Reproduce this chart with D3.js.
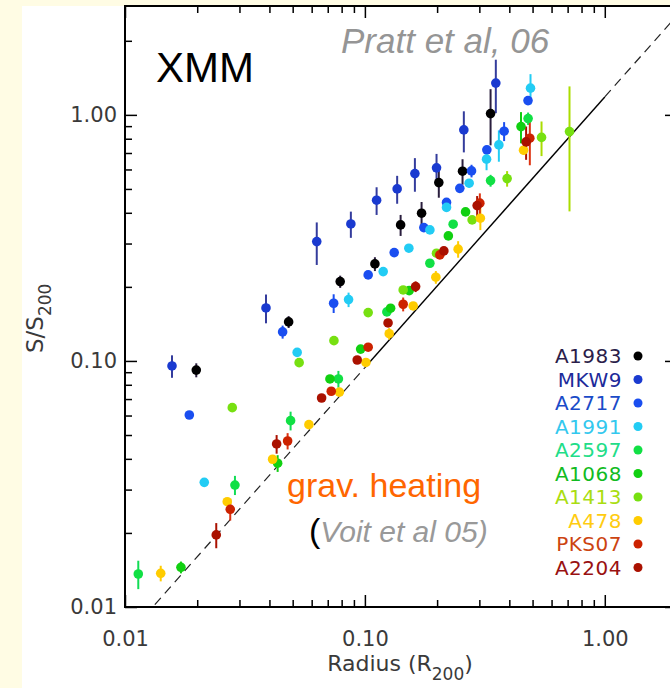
<!DOCTYPE html>
<html><head><meta charset="utf-8">
<script src="https://cdn.jsdelivr.net/npm/d3@7"></script>
<style>
html,body{margin:0;padding:0;background:#fffce4;}
svg{display:block;}
</style></head><body>
<svg id="c" width="670" height="688"></svg>
<script>
// ---------- data ----------
const clusters   = ["A1983","MKW9","A2717","A1991","A2597","A1068","A1413","A478","PKS07","A2204"];
const labelColors= ["#2b1d4a","#1c2a9a","#1a4bc8","#33c8ee","#22dd88","#11bb22","#aadd11","#ffcc11","#cc4411","#991111"];
const dotColors  = ["#000000","#1a3ad0","#1a4ef0","#22ccf4","#11e044","#11d011","#77e011","#ffcc00","#cc2200","#aa1100"];
const barColors  = ["#2a1e3e","#343c9c","#1a4ef0","#22ccf4","#11dd55","#11cc11","#aadd00","#ffcc00","#dd3311","#aa1100"];

const A1983_r = [0.01982,0.0481,0.0789,0.1101,0.1409,0.1723,0.2033,0.2553,0.3341];
const A1983_s = [0.0918,0.1441,0.2101,0.2479,0.3571,0.3985,0.5306,0.5903,1.012];
const A1983_e = [0.006,0.008,0.012,0.016,0.035,0.044,0.07,0.07,0.26];

const MKW9_r = [0.0157,0.0387,0.0630,0.0874,0.1119,0.1363,0.1616,0.1989,0.2585,0.3514];
const MKW9_s = [0.0954,0.1642,0.3055,0.3604,0.450,0.5003,0.5771,0.609,0.869,1.346];
const MKW9_e = [0.010,0.022,0.06,0.044,0.058,0.065,0.09,0.085,0.165,0.33];

const A2717_r = [0.01854,0.0454,0.0741,0.1032,0.1325,0.1761,0.2189,0.2487,0.2783,0.3224,0.3805,0.4786];
const A2717_s = [0.0603,0.1312,0.1716,0.2237,0.2756,0.3482,0.4409,0.5027,0.5920,0.7210,0.8585,1.143];
const A2717_e = [0,0.008,0.015,0,0,0,0,0,0.035,0,0.076,0];

const A1991_r = [0.0214,0.0522,0.0855,0.1192,0.1525,0.1866,0.2189,0.2720,0.3215,0.3618,0.4902];
const A1991_s = [0.0321,0.1083,0.1775,0.2307,0.2872,0.3408,0.4207,0.5276,0.6607,0.7551,1.284];
const A1991_e = [0,0,0.012,0,0,0,0,0.02,0.065,0.11,0.18];

const A2597_r = [0.01136,0.02873,0.04901,0.07755,0.1235,0.1866,0.2333,0.3341,0.4790];
const A2597_s = [0.01362,0.03131,0.0572,0.0845,0.1582,0.2495,0.3595,0.5406,0.966];
const A2597_e = [0.0018,0.0028,0.005,0.0066,0,0,0,0.03,0.056];

const A1068_r = [0.01711,0.04328,0.07149,0.0960,0.1280,0.1530,0.2228,0.2628,0.4475];
const A1068_s = [0.01450,0.0384,0.0845,0.1117,0.1638,0.1931,0.3222,0.4034,0.8963];
const A1068_e = [0.0008,0.003,0,0,0,0,0,0,0.13];

const A1413_r = [0.0280,0.0532,0.0743,0.1032,0.1444,0.1989,0.2799,0.3916,0.5449,0.7127];
const A1413_s = [0.0646,0.0984,0.1209,0.1572,0.1943,0.2741,0.3742,0.5508,0.8100,0.8553];
const A1413_e = [0,0,0,0,0,0,0,0.04,0.13,0.45];

const A478_r = [0.01409,0.02668,0.04124,0.05843,0.0783,0.1010,0.1263,0.1590,0.1976,0.2447,0.3029,0.4585];
const A478_s = [0.01371,0.02679,0.03986,0.0551,0.0747,0.0986,0.1290,0.1673,0.2189,0.2847,0.3802,0.7187];
const A478_e = [0.001,0,0,0,0,0,0.007,0,0.013,0.022,0.04,0.03];

const PKS07_r = [0.02746,0.04763,0.0724,0.1032,0.1444,0.2053,0.3014,0.4870];
const PKS07_s = [0.02495,0.04728,0.0753,0.1137,0.1700,0.2698,0.4377,0.8040];
const PKS07_e = [0.0025,0.0036,0,0,0.011,0,0.042,0.18];

const A2204_r = [0.02401,0.04286,0.0660,0.0929,0.1249,0.1627,0.2134,0.2937,0.4699];
const A2204_s = [0.01963,0.04598,0.0707,0.1009,0.1427,0.2005,0.2800,0.4279,0.7767];
const A2204_e = [0.0023,0.004,0,0,0,0.01,0,0.04,0.12];

// gravitational heating baseline (Voit et al 05)
const baseSolidR  = [0.1, 1.0];
const baseSolidS  = [0.0940, 1.183];
const baseDashLoR = [0.01, 0.1];
const baseDashLoS = [0.00746, 0.0940];
const baseDashHiR = [1.0, 2.0];
const baseDashHiS = [1.183, 2.535];

// axes
const xDomain = [0.01, 2.0];
const yDomain = [0.01, 2.77];
const majorTicks = [0.01, 0.1, 1];
const minorTicks = [0.02,0.03,0.04,0.05,0.06,0.07,0.08,0.09,0.2,0.3,0.4,0.5,0.6,0.7,0.8,0.9,2];

const seriesR = [A1983_r,MKW9_r,A2717_r,A1991_r,A2597_r,A1068_r,A1413_r,A478_r,PKS07_r,A2204_r];
const seriesS = [A1983_s,MKW9_s,A2717_s,A1991_s,A2597_s,A1068_s,A1413_s,A478_s,PKS07_s,A2204_s];
const seriesE = [A1983_e,MKW9_e,A2717_e,A1991_e,A2597_e,A1068_e,A1413_e,A478_e,PKS07_e,A2204_e];

// ---------- drawing ----------
const W = 670, H = 688;
const L = 125, R = 677, T = 6, B = 607;
const axisFont = "'DejaVu Sans', sans-serif";
const svg = d3.select("#c");
svg.append("rect").attr("width",W).attr("height",H).attr("fill","#fffce4");
svg.append("rect").attr("x",22).attr("y",6).attr("width",W-22).attr("height",H-6).attr("fill","#ffffff");

const x = d3.scaleLog().domain(xDomain).range([L, R]);
const y = d3.scaleLog().domain(yDomain).range([B, T]);

svg.append("defs").append("clipPath").attr("id","clip")
  .append("rect").attr("x",L).attr("y",T).attr("width",R-L).attr("height",B-T);

const plot = svg.append("g").attr("clip-path","url(#clip)");

// baseline
const line = d3.line().x(d=>x(d[0])).y(d=>y(d[1]));
plot.append("path").datum(d3.zip(baseSolidR, baseSolidS)).attr("d", line)
  .attr("fill","none").attr("stroke","#000").attr("stroke-width",1.4);
[[baseDashLoR,baseDashLoS],[baseDashHiR,baseDashHiS]].forEach(([rr,ss])=>{
  plot.append("path").datum(d3.zip(rr, ss)).attr("d", line)
    .attr("fill","none").attr("stroke","#222").attr("stroke-width",1.2)
    .attr("stroke-dasharray","9,6");
});

// error bars then points
clusters.forEach((name,i)=>{
  const g = plot.append("g");
  const pts = seriesR[i].map((r,k)=>({r, s:seriesS[i][k], e:seriesE[i][k]}));
  g.selectAll("line").data(pts.filter(p=>p.e>0)).join("line")
    .attr("x1",p=>x(p.r)).attr("x2",p=>x(p.r))
    .attr("y1",p=>y(p.s-p.e)).attr("y2",p=>y(p.s+p.e))
    .attr("stroke",barColors[i]).attr("stroke-width",2);
});
clusters.forEach((name,i)=>{
  const pts = seriesR[i].map((r,k)=>({r, s:seriesS[i][k]}));
  plot.append("g").selectAll("circle").data(pts).join("circle")
    .attr("cx",p=>x(p.r)).attr("cy",p=>y(p.s)).attr("r",4.8)
    .attr("fill",dotColors[i]);
});

// axes
function styleAxis(g){
  g.select(".domain").remove();
  g.selectAll(".tick line").attr("stroke","#000").attr("stroke-width",1.5);
  g.selectAll("text").attr("fill","#3a3a3a").style("font-family",axisFont)
    .style("font-size","21px");
}
const fmt = d3.format(".2f");
svg.append("g").attr("transform",`translate(0,${B})`)
  .call(d3.axisBottom(x).tickValues(majorTicks).tickSize(-12).tickPadding(24).tickFormat(fmt)).call(styleAxis);
svg.append("g").attr("transform",`translate(0,${B})`)
  .call(d3.axisBottom(x).tickValues(minorTicks).tickSize(-7).tickFormat("")).call(styleAxis);
svg.append("g").attr("transform",`translate(0,${T})`)
  .call(d3.axisTop(x).tickValues(majorTicks).tickSize(-12).tickFormat("")).call(styleAxis);
svg.append("g").attr("transform",`translate(0,${T})`)
  .call(d3.axisTop(x).tickValues(minorTicks).tickSize(-7).tickFormat("")).call(styleAxis);
svg.append("g").attr("transform",`translate(${L},0)`)
  .call(d3.axisLeft(y).tickValues(majorTicks).tickSize(-12).tickPadding(8).tickFormat(fmt)).call(styleAxis);
svg.append("g").attr("transform",`translate(${L},0)`)
  .call(d3.axisLeft(y).tickValues(minorTicks).tickSize(-7).tickFormat("")).call(styleAxis);
svg.append("g").attr("transform",`translate(${R},0)`)
  .call(d3.axisRight(y).tickValues(majorTicks).tickSize(-12).tickFormat("")).call(styleAxis);
svg.append("g").attr("transform",`translate(${R},0)`)
  .call(d3.axisRight(y).tickValues(minorTicks).tickSize(-7).tickFormat("")).call(styleAxis);

svg.append("rect").attr("x",L).attr("y",T).attr("width",R-L).attr("height",B-T)
  .attr("fill","none").attr("stroke","#000").attr("stroke-width",2);

// axis titles
const xt = svg.append("text").attr("x",400).attr("y",671).attr("text-anchor","middle")
  .attr("fill","#3a3a3a").style("font-family",axisFont).style("font-size","22px");
xt.append("tspan").text("Radius (R");
xt.append("tspan").attr("dy",9).style("font-size","17px").text("200");
xt.append("tspan").attr("dy",-9).text(")");

const yt = svg.append("text").attr("transform","translate(43,353) rotate(-90)")
  .attr("fill","#3a3a3a").style("font-family",axisFont).style("font-size","23px");
yt.append("tspan").text("S/S");
yt.append("tspan").attr("dy",8).style("font-size","17px").text("200");

// annotations
const ann = "'Liberation Sans', Arial, sans-serif";
svg.append("text").attr("x",156).attr("y",82).text("XMM")
  .attr("fill","#000").style("font-family",ann).style("font-size","42px");
svg.append("text").attr("x",341).attr("y",53).text("Pratt et al, 06")
  .attr("fill","#959595").style("font-family",ann).style("font-size","35px").style("font-style","italic");
svg.append("text").attr("x",287).attr("y",497).text("grav. heating")
  .attr("fill","#ff6600").style("font-family",ann).style("font-size","34px");
const vt = svg.append("text").attr("x",309).attr("y",542)
  .style("font-family",ann).style("font-size","30px");
vt.append("tspan").attr("fill","#000").style("font-size","34px").text("(");
vt.append("tspan").attr("fill","#999").style("font-style","italic").text("Voit et al 05)");

// legend
const legY0 = 356, legDy = 23.5;
const leg = svg.append("g");
clusters.forEach((name,i)=>{
  leg.append("text").attr("x",622).attr("y",legY0+i*legDy).attr("dy","0.36em")
    .attr("text-anchor","end").attr("fill",labelColors[i])
    .style("font-family",axisFont).style("font-size","20px")
    .style("letter-spacing","0.5px").text(name);
  leg.append("circle").attr("cx",638).attr("cy",legY0+i*legDy).attr("r",4.5).attr("fill",dotColors[i]);
});
</script>
</body></html>
